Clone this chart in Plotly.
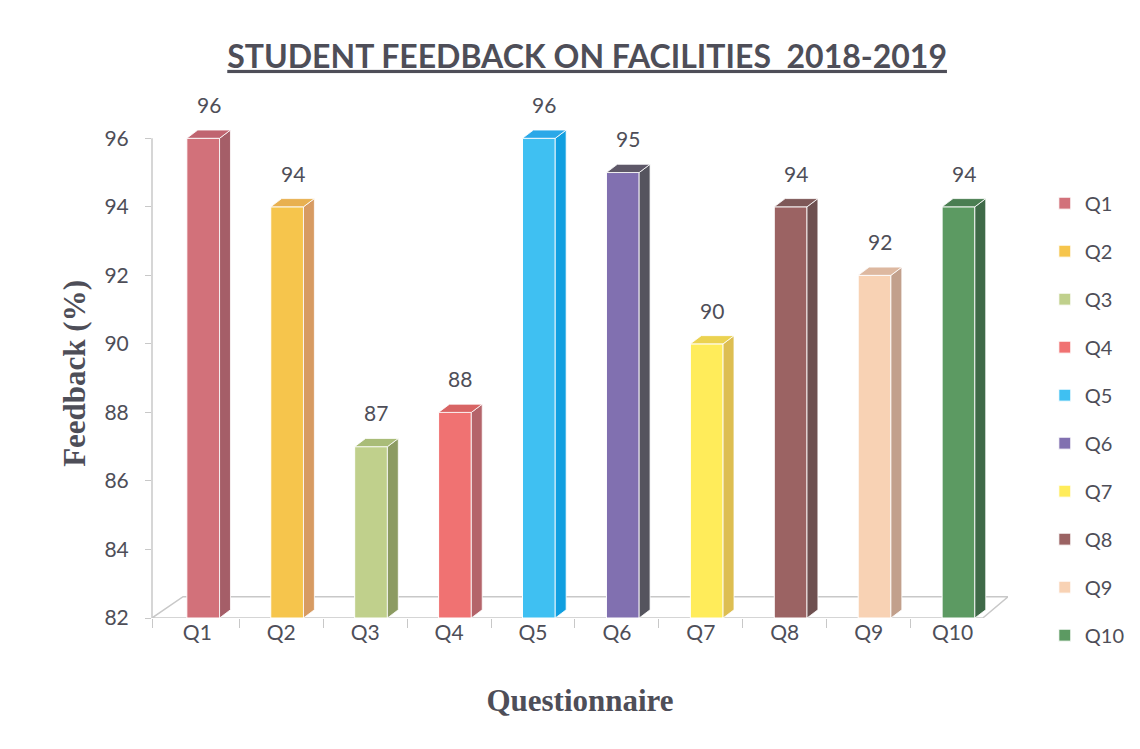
import plotly.graph_objects as go

categories = ["Q1", "Q2", "Q3", "Q4", "Q5", "Q6", "Q7", "Q8", "Q9", "Q10"]
values = [96, 94, 87, 88, 96, 95, 90, 94, 92, 94]
front_colors = ["#D2717A", "#F6C54C", "#C0D08C", "#F07272", "#3FC0F2",
                "#8170B0", "#FFEC5A", "#9B6363", "#F8D2B4", "#5C9A62"]
side_colors = ["#A55E68", "#D79B62", "#8C9B62", "#B4646A", "#109FE0",
               "#55545E", "#DDBE52", "#6E5050", "#C2A08C", "#3F6A48"]
top_colors = ["#C06470", "#E8B050", "#A9BC78", "#D86464", "#2AA8E8",
              "#5E5868", "#EBD250", "#7E5858", "#DDB8A0", "#4A7E52"]
y_ticks = [82, 84, 86, 88, 90, 92, 94, 96]

BASE = 82
W = 0.39      # front face width (category units)
SHIFT = 0.07  # bars sit slightly right of the category centre (perspective)
DX = 0.13     # depth offset in x (category units)
DY = 0.24     # depth offset in y (value units)

TEXT = "#4E4E58"
FONT = "Lato"

fig = go.Figure()
xs = list(range(len(categories)))
n = len(categories)

# floor (perspective base)
fx0, fx1 = -0.54, n - 1 + 0.36
fdx, fdy = 0.37, 0.62
fig.add_shape(type="path",
              path=f"M {fx0},{BASE} L {fx0 + fdx},{BASE + fdy} L {fx1 + 0.3},{BASE + fdy} L {fx1},{BASE} Z",
              xref="x", yref="y", line=dict(color="#C8C8C8", width=1.5), fillcolor="rgba(0,0,0,0)", layer="below")
# vertical value axis line (from base up to the top tick only)
fig.add_shape(type="line", xref="paper", yref="y", x0=0, x1=0, y0=min(y_ticks), y1=max(y_ticks),
              line=dict(color="#C8C8C8", width=1.5), layer="below")

for i, (cat, v) in enumerate(zip(categories, values)):
    xc = i + SHIFT
    fig.add_trace(go.Bar(
        x=[xc], y=[v - BASE], base=BASE, width=W, name=cat,
        marker=dict(color=front_colors[i], line=dict(color="white", width=1)),
        legendgroup=cat, showlegend=True, hoverinfo="y",
    ))
    xr = xc + W / 2
    xl = xc - W / 2
    # side face
    fig.add_shape(type="path",
                  path=f"M {xr},{BASE} L {xr + DX},{BASE + DY} L {xr + DX},{v + DY} L {xr},{v} Z",
                  xref="x", yref="y", line=dict(color="white", width=0.8), fillcolor=side_colors[i])
    # top face
    fig.add_shape(type="path",
                  path=f"M {xl},{v} L {xl + DX},{v + DY} L {xr + DX},{v + DY} L {xr},{v} Z",
                  xref="x", yref="y", line=dict(color="white", width=0.8), fillcolor=top_colors[i])
    fig.add_annotation(x=xc + DX / 2, y=v + DY, text=str(v), showarrow=False,
                       yanchor="bottom", yshift=11, font=dict(family=FONT, size=21, color=TEXT))

# y axis title as annotation (placed lower than the plot centre, as in the original)
fig.add_annotation(text="<b>Feedback (%)</b>", textangle=-90, xref="paper", yref="paper",
                   x=0, xshift=-77, y=0.475, xanchor="center", yanchor="middle", showarrow=False,
                   font=dict(family="Liberation Serif", size=31, color=TEXT))

fig.update_layout(
    width=1140, height=749,
    paper_bgcolor="white", plot_bgcolor="white",
    margin=dict(l=144, r=140, t=96, b=139),
    barmode="overlay",
    title=dict(text="<u><b>STUDENT FEEDBACK ON FACILITIES  2018-2019</b></u>",
               x=0.508, xanchor="center", y=0.935, yanchor="middle",
               font=dict(family=FONT, size=32, color=TEXT)),
    legend=dict(x=1.043, xanchor="left", y=0.845, yanchor="top",
                font=dict(family=FONT, size=20, color=TEXT),
                tracegroupgap=19, itemwidth=30, bgcolor="rgba(0,0,0,0)"),
    showlegend=True,
)
fig.update_xaxes(
    range=[-0.54, n - 1 + 0.66],
    tickvals=xs, ticktext=categories, ticks="",
    tickfont=dict(family=FONT, size=21, color=TEXT),
    showgrid=False, zeroline=False, showline=False,
    minor=dict(tickvals=[i + 0.5 for i in xs[:-1]] + [-0.54], ticks="outside", ticklen=9,
               tickcolor="#C8C8C8", showgrid=False),
    title=dict(text="<b>Questionnaire</b>", font=dict(family="Liberation Serif", size=31, color=TEXT), standoff=46),
)
fig.update_yaxes(
    range=[82, 97], tickvals=y_ticks,
    tickfont=dict(family=FONT, size=21, color=TEXT),
    ticks="outside", ticklen=6, tickcolor="#C8C8C8", ticklabelstandoff=12,
    showgrid=False, zeroline=False, showline=False,
)

fig.write_html("out.html")
